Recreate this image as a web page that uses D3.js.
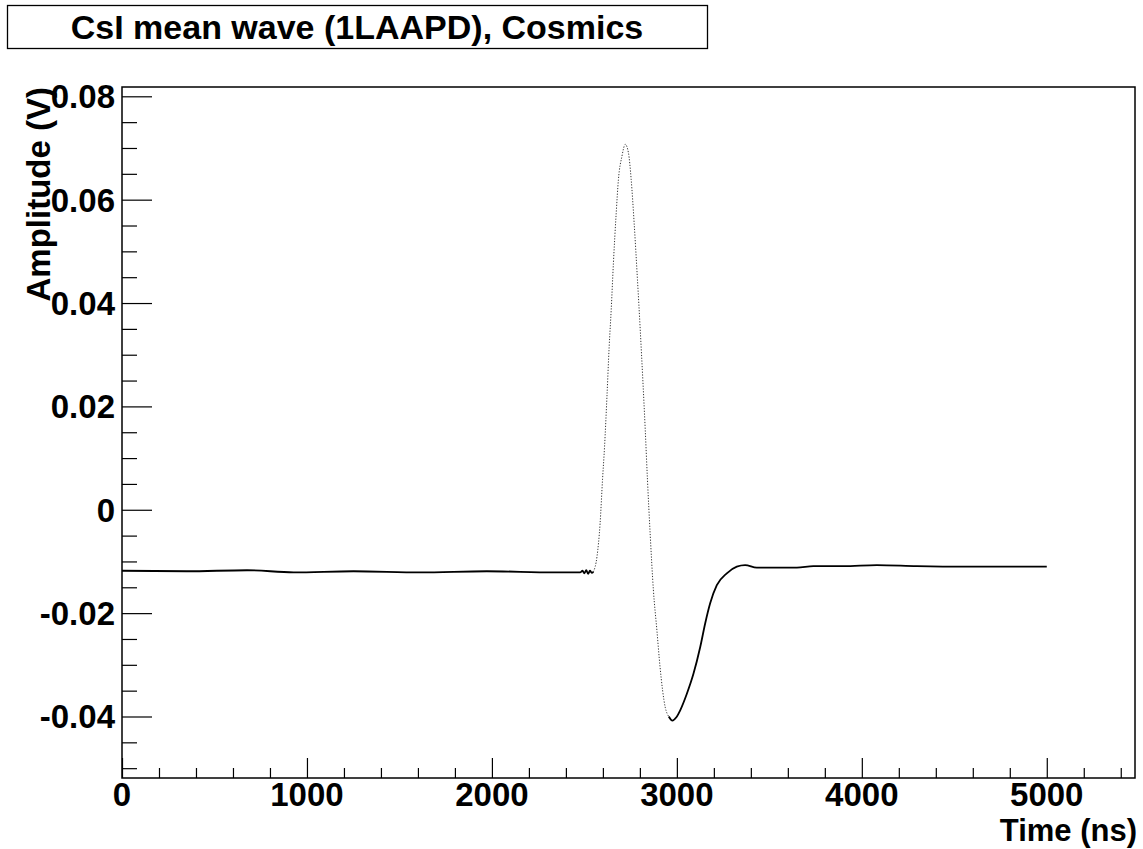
<!DOCTYPE html>
<meta charset="utf-8">
<style>
body { margin: 0; background: #fff; }
svg text {
    font-family: 'Liberation Sans', Arial, Helvetica, sans-serif;
    font-weight: bold;
    fill: #000;
}
.frame { fill: none; stroke: #000; stroke-width: 1.5px; }
.tick line { stroke: #000; stroke-width: 1.2px; }
.wave { fill: none; stroke: #000; stroke-width: 1.8px; }
.wave-fast { fill: none; stroke: #333; stroke-width: 1px; stroke-dasharray: 1.2 1.6; }
</style>
<svg id="svg" width="1143" height="849"></svg>
<script src="https://cdnjs.cloudflare.com/ajax/libs/d3/7.8.5/d3.min.js"></script>
<script>

// mean waveform (ns, V)
const waveTime = [
    0, 350, 676, 928, 1252, 1612, 1973, 2333, 2477,
    2490, 2500, 2510, 2520, 2530, 2540,
    2549, 2568, 2585, 2598, 2609, 2622, 2634, 2645, 2657, 2672, 2684, 2703,
    2721, 2738, 2753, 2769, 2787, 2802, 2816, 2829, 2841, 2856, 2873, 2892, 2909, 2937, 2956,
    2976, 2996, 3018, 3054, 3090, 3126, 3153, 3180, 3216, 3270, 3324, 3369,
    3432, 3504, 3576, 3649, 3738, 3900, 4081, 4297, 4568, 4748, 5000
];
const waveAmp = [
    -0.0118, -0.0119, -0.0117, -0.0121, -0.0119, -0.0121, -0.0119, -0.0121, -0.0121,
    -0.0118, -0.0123, -0.0117, -0.0124, -0.0118, -0.0122,
    -0.0120, -0.0091, -0.0026, 0.0058, 0.0122, 0.0219, 0.0316, 0.0387, 0.0478, 0.0574, 0.0639, 0.0684,
    0.0707, 0.0691, 0.0639, 0.0555, 0.0445, 0.0348, 0.0251, 0.0155, 0.0058, -0.0049, -0.0155, -0.0233, -0.0304, -0.0382, -0.0400,
    -0.0408, -0.0402, -0.0388, -0.0356, -0.0317, -0.0266, -0.0220, -0.0181, -0.0146, -0.0123, -0.0110, -0.0107,
    -0.0112, -0.0112, -0.0112, -0.0112, -0.0109, -0.0109, -0.0107, -0.0109, -0.0110, -0.0110, -0.0110
];

const xMajor = [0, 1000, 2000, 3000, 4000, 5000];
const yMajor = [-0.04, -0.02, 0, 0.02, 0.04, 0.06, 0.08];
const yLabels = ['-0.04', '-0.02', '0', '0.02', '0.04', '0.06', '0.08'];

const titleText = 'CsI mean wave (1LAAPD), Cosmics';
const xTitle = 'Time (ns)';
const yTitle = 'Amplitude (V)';

const fastStart = 2549, fastEnd = 2956;

const data = waveTime.map((t, i) => ({t: t, v: waveAmp[i]}));

const svg = d3.select('#svg');
const pLeft = 122, pRight = 1135, pTop = 87, pBottom = 778;

const x = d3.scaleLinear().domain([0, 5477]).range([pLeft, pRight]);
const y = d3.scaleLinear().domain([-0.0519, 0.0818]).range([pBottom, pTop]);

// title box
svg.append('rect')
    .attr('x', 7.5).attr('y', 5.5)
    .attr('width', 700).attr('height', 43)
    .attr('fill', '#fff').attr('stroke', '#000').attr('stroke-width', 1.3);
svg.append('text')
    .attr('x', 357).attr('y', 39)
    .attr('text-anchor', 'middle')
    .style('font-size', '34px')
    .text(titleText);

// y axis: majors 30px, minors 15px, pointing inwards
const yAxis = d3.axisRight(y)
    .tickValues(d3.range(-0.05, 0.0801, 0.005))
    .tickFormat('')
    .tickSize(15)
    .tickSizeOuter(0);
const gy = svg.append('g').attr('transform', 'translate(' + pLeft + ',0)').call(yAxis);
gy.select('.domain').remove();
gy.selectAll('.tick line')
    .attr('x2', d => yMajor.some(m => Math.abs(m - d) < 1e-6) ? 30 : 15);

svg.selectAll('.ylab')
    .data(yMajor)
    .enter().append('text')
    .attr('class', 'ylab')
    .attr('x', pLeft - 7)
    .attr('y', d => y(d))
    .attr('dy', '0.36em')
    .attr('text-anchor', 'end')
    .style('font-size', '33px')
    .text((d, i) => yLabels[i]);

// x axis: majors 20px, minors 10px, pointing up
const xAxis = d3.axisTop(x)
    .tickValues(d3.range(0, 5401, 200))
    .tickFormat('')
    .tickSize(10)
    .tickSizeOuter(0);
const gx = svg.append('g').attr('transform', 'translate(0,' + pBottom + ')').call(xAxis);
gx.select('.domain').remove();
gx.selectAll('.tick line')
    .attr('y2', d => d % 1000 === 0 ? -20 : -10);

svg.selectAll('.xlab')
    .data(xMajor)
    .enter().append('text')
    .attr('class', 'xlab')
    .attr('x', d => x(d))
    .attr('y', 806)
    .attr('text-anchor', 'middle')
    .style('font-size', '33px')
    .text(d => d);

// frame
svg.append('rect').attr('class', 'frame')
    .attr('x', pLeft).attr('y', pTop)
    .attr('width', pRight - pLeft).attr('height', pBottom - pTop);

// axis titles
svg.append('text')
    .attr('x', 1137).attr('y', 841)
    .attr('text-anchor', 'end')
    .style('font-size', '31px')
    .text(xTitle);

svg.append('text')
    .attr('transform', 'translate(50,' + 87 + ') rotate(-90)')
    .attr('text-anchor', 'end')
    .style('font-size', '33px')
    .text(yTitle);

// waveform: slow parts solid, fast edges thin/dotted like the sampled points
const line = d3.line()
    .curve(d3.curveMonotoneX)
    .x(d => x(d.t))
    .y(d => y(d.v));

svg.append('path')
    .attr('class', 'wave')
    .attr('d', line.defined(d => d.t <= fastStart || d.t >= fastEnd)(data));

svg.append('path')
    .attr('class', 'wave-fast')
    .attr('d', line.defined(d => d.t >= fastStart && d.t <= fastEnd)(data));

</script>
